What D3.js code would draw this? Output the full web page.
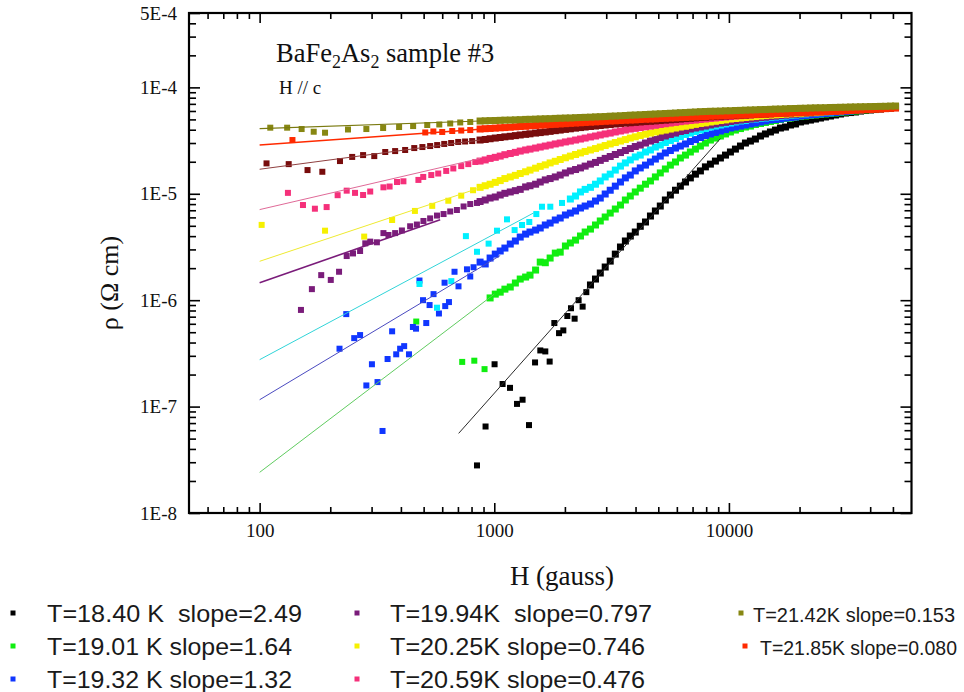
<!DOCTYPE html>
<html><head><meta charset="utf-8">
<script src="https://cdn.jsdelivr.net/npm/d3@7/dist/d3.min.js"></script>
<style>
html,body{margin:0;padding:0;background:#fff;}
svg{display:block;}
text{white-space:pre;}
</style></head><body>
<svg id="chart" width="964" height="692"></svg>
<script>
// ---------------- DATA ----------------
// shared field grid (gauss) for the dense high-field part of every sweep
const fieldGrid = [870,915,960,1010,1060,1110,1170,1230,1290,1360,1420,1500,1570,1650,1730,1820,1910,2010,2110,2220,2330,2440,2570,2700,2830,2970,3120,3280,3450,3620,3800,3990,4190,4410,4630,4860,5100,5360,5630,5920,6210,6530,6850,7200,7560,7940,8340,8760,9200,9670,10150,10660,11200,11760,12350,12970,13630,14310,15030,15790,16580,17420,18300,19220,20180,21200,22260,23380,24560,25800,27090,28460,29890,31400,32970,34630,36380,38210,40130,42150,44280,46510,48850,51290];

// resistivity (ohm cm) on fieldGrid
const rho1840 = [null,null,null,null,null,null,null,null,null,null,null,null,null,null,null,null,null,null,null,null,null,null,
1.39e-6,1.58e-6,1.80e-6,2.05e-6,2.33e-6,2.71e-6,3.16e-6,3.60e-6,4.01e-6,4.37e-6,
4.95e-6,5.43e-6,6.18e-6,6.89e-6,7.67e-6,8.74e-6,9.74e-6,1.08e-5,1.18e-5,1.29e-5,
1.41e-5,1.53e-5,1.64e-5,1.79e-5,1.90e-5,2.03e-5,2.17e-5,2.31e-5,2.47e-5,2.63e-5,
2.81e-5,3.00e-5,3.13e-5,3.27e-5,3.49e-5,3.65e-5,3.81e-5,3.97e-5,4.15e-5,4.24e-5,
4.43e-5,4.53e-5,4.73e-5,4.83e-5,4.93e-5,5.04e-5,5.15e-5,5.27e-5,5.38e-5,5.50e-5,
5.62e-5,5.74e-5,5.80e-5,5.87e-5,5.99e-5,6.06e-5,6.13e-5,6.19e-5,6.26e-5,6.33e-5,
6.40e-5,6.47e-5];
const rho1901 = [null,null,
1.05e-6,1.14e-6,1.19e-6,1.27e-6,1.33e-6,1.45e-6,1.58e-6,1.65e-6,1.72e-6,1.92e-6,
2.28e-6,2.25e-6,2.49e-6,2.77e-6,2.83e-6,3.23e-6,3.45e-6,3.67e-6,4.01e-6,4.37e-6,
4.66e-6,5.09e-6,5.55e-6,6.05e-6,6.59e-6,7.19e-6,7.84e-6,8.74e-6,9.53e-6,1.04e-5,
1.13e-5,1.23e-5,1.32e-5,1.44e-5,1.57e-5,1.71e-5,1.86e-5,1.99e-5,2.17e-5,2.31e-5,
2.47e-5,2.63e-5,2.81e-5,3.00e-5,3.20e-5,3.34e-5,3.49e-5,3.65e-5,3.81e-5,3.97e-5,
4.10e-5,4.24e-5,4.33e-5,4.48e-5,4.58e-5,4.68e-5,4.78e-5,4.88e-5,4.99e-5,5.10e-5,
5.15e-5,5.27e-5,5.32e-5,5.38e-5,5.44e-5,5.50e-5,5.56e-5,5.62e-5,5.68e-5,5.74e-5,
5.80e-5,5.87e-5,5.93e-5,5.99e-5,6.06e-5,6.13e-5,6.19e-5,6.26e-5,6.33e-5,6.40e-5,
6.47e-5,6.54e-5];
const rho1932 = [2.28e-6,2.19e-6,2.49e-6,2.71e-6,2.90e-6,3.09e-6,3.37e-6,3.60e-6,3.92e-6,4.18e-6,
4.37e-6,4.56e-6,4.77e-6,5.09e-6,5.31e-6,5.67e-6,5.92e-6,6.32e-6,6.59e-6,6.89e-6,
7.35e-6,7.67e-6,8.01e-6,8.55e-6,9.12e-6,9.95e-6,1.08e-5,1.18e-5,1.29e-5,1.41e-5,
1.50e-5,1.64e-5,1.75e-5,1.86e-5,1.99e-5,2.12e-5,2.26e-5,2.42e-5,2.55e-5,2.69e-5,
2.81e-5,2.94e-5,3.10e-5,3.23e-5,3.38e-5,3.53e-5,3.65e-5,3.77e-5,3.89e-5,4.01e-5,
4.15e-5,4.24e-5,4.33e-5,4.43e-5,4.53e-5,4.62e-5,4.73e-5,4.83e-5,4.93e-5,4.99e-5,
5.04e-5,5.15e-5,5.21e-5,5.27e-5,5.38e-5,5.44e-5,5.50e-5,5.56e-5,5.62e-5,5.68e-5,
5.74e-5,5.80e-5,5.87e-5,5.93e-5,5.99e-5,6.06e-5,6.13e-5,6.19e-5,6.26e-5,6.33e-5,
6.40e-5,6.47e-5,6.54e-5,6.61e-5];
const rhoCyan = [null,null,null,null,null,null,null,null,null,null,null,null,null,null,null,null,null,null,
8.93e-6,9.53e-6,1.04e-5,1.10e-5,1.15e-5,1.23e-5,1.32e-5,1.44e-5,1.53e-5,1.67e-5,
1.82e-5,1.95e-5,2.08e-5,2.22e-5,2.31e-5,2.47e-5,2.58e-5,2.75e-5,2.87e-5,3.03e-5,
3.17e-5,3.31e-5,3.45e-5,3.61e-5,3.72e-5,3.85e-5,3.97e-5,4.10e-5,4.24e-5,4.33e-5,
4.43e-5,4.53e-5,4.62e-5,4.73e-5,4.83e-5,4.88e-5,4.99e-5,5.04e-5,5.10e-5,5.15e-5,
5.21e-5,5.27e-5,5.32e-5,5.38e-5,5.44e-5,5.50e-5,5.56e-5,5.62e-5,5.68e-5,5.74e-5,
5.78e-5,5.82e-5,5.87e-5,5.93e-5,5.99e-5,6.06e-5,6.10e-5,6.13e-5,6.19e-5,6.26e-5,
6.33e-5,6.37e-5,6.40e-5,6.47e-5,6.54e-5,6.61e-5];
const rho1994 = [8.46e-6,8.74e-6,9.12e-6,9.33e-6,9.74e-6,1.01e-5,1.04e-5,1.07e-5,1.10e-5,1.16e-5,
1.19e-5,1.23e-5,1.29e-5,1.35e-5,1.39e-5,1.44e-5,1.50e-5,1.57e-5,1.64e-5,1.69e-5,
1.75e-5,1.82e-5,1.90e-5,1.97e-5,2.06e-5,2.15e-5,2.24e-5,2.34e-5,2.44e-5,2.55e-5,
2.66e-5,2.78e-5,2.87e-5,3.00e-5,3.13e-5,3.23e-5,3.38e-5,3.49e-5,3.61e-5,3.72e-5,
3.85e-5,3.93e-5,4.06e-5,4.15e-5,4.24e-5,4.33e-5,4.43e-5,4.53e-5,4.62e-5,4.69e-5,
4.78e-5,4.85e-5,4.93e-5,4.99e-5,5.04e-5,5.12e-5,5.19e-5,5.24e-5,5.30e-5,5.36e-5,
5.42e-5,5.48e-5,5.52e-5,5.59e-5,5.62e-5,5.67e-5,5.72e-5,5.77e-5,5.82e-5,5.87e-5,
5.92e-5,5.97e-5,6.02e-5,6.07e-5,6.13e-5,6.17e-5,6.22e-5,6.26e-5,6.32e-5,6.37e-5,
6.43e-5,6.48e-5,6.54e-5,6.60e-5];
const rho2025 = [1.15e-5,1.19e-5,1.23e-5,1.28e-5,1.33e-5,1.39e-5,1.44e-5,1.49e-5,1.55e-5,1.61e-5,
1.67e-5,1.74e-5,1.81e-5,1.87e-5,1.95e-5,2.02e-5,2.10e-5,2.18e-5,2.26e-5,2.34e-5,
2.42e-5,2.50e-5,2.58e-5,2.66e-5,2.75e-5,2.84e-5,2.94e-5,3.03e-5,3.13e-5,3.23e-5,
3.34e-5,3.43e-5,3.53e-5,3.63e-5,3.72e-5,3.81e-5,3.89e-5,3.97e-5,4.06e-5,4.15e-5,
4.24e-5,4.31e-5,4.40e-5,4.49e-5,4.58e-5,4.64e-5,4.73e-5,4.80e-5,4.88e-5,4.95e-5,
5.04e-5,5.10e-5,5.15e-5,5.21e-5,5.27e-5,5.32e-5,5.38e-5,5.43e-5,5.48e-5,5.52e-5,
5.56e-5,5.61e-5,5.65e-5,5.68e-5,5.72e-5,5.76e-5,5.80e-5,5.83e-5,5.87e-5,5.92e-5,
5.96e-5,6.01e-5,6.05e-5,6.09e-5,6.13e-5,6.18e-5,6.24e-5,6.29e-5,6.33e-5,6.38e-5,
6.43e-5,6.48e-5,6.54e-5,6.60e-5];
const rho2059 = [2.03e-5,2.08e-5,2.15e-5,2.20e-5,2.26e-5,2.33e-5,2.39e-5,2.45e-5,2.52e-5,2.58e-5,
2.63e-5,2.69e-5,2.75e-5,2.81e-5,2.87e-5,2.94e-5,3.00e-5,3.07e-5,3.13e-5,3.20e-5,
3.27e-5,3.34e-5,3.42e-5,3.49e-5,3.57e-5,3.65e-5,3.72e-5,3.81e-5,3.89e-5,3.97e-5,
4.06e-5,4.12e-5,4.19e-5,4.26e-5,4.33e-5,4.40e-5,4.48e-5,4.55e-5,4.62e-5,4.69e-5,
4.76e-5,4.82e-5,4.88e-5,4.93e-5,4.99e-5,5.04e-5,5.10e-5,5.15e-5,5.21e-5,5.27e-5,
5.32e-5,5.37e-5,5.42e-5,5.46e-5,5.50e-5,5.54e-5,5.58e-5,5.62e-5,5.65e-5,5.70e-5,
5.74e-5,5.78e-5,5.82e-5,5.86e-5,5.90e-5,5.94e-5,5.96e-5,5.99e-5,6.02e-5,6.06e-5,
6.09e-5,6.13e-5,6.15e-5,6.19e-5,6.22e-5,6.26e-5,6.29e-5,6.33e-5,6.37e-5,6.42e-5,
6.46e-5,6.50e-5,6.54e-5,6.59e-5];
const rhoDarkRed = [3.20e-5,3.24e-5,3.29e-5,3.34e-5,3.38e-5,3.43e-5,3.47e-5,3.52e-5,3.57e-5,3.62e-5,
3.66e-5,3.72e-5,3.76e-5,3.81e-5,3.86e-5,3.92e-5,3.97e-5,4.03e-5,4.08e-5,4.14e-5,
4.19e-5,4.24e-5,4.29e-5,4.33e-5,4.38e-5,4.43e-5,4.48e-5,4.53e-5,4.58e-5,4.62e-5,
4.65e-5,4.69e-5,4.73e-5,4.77e-5,4.80e-5,4.84e-5,4.88e-5,4.92e-5,4.96e-5,5.00e-5,
5.04e-5,5.09e-5,5.12e-5,5.17e-5,5.21e-5,5.24e-5,5.28e-5,5.31e-5,5.35e-5,5.38e-5,
5.41e-5,5.44e-5,5.48e-5,5.50e-5,5.53e-5,5.56e-5,5.59e-5,5.62e-5,5.65e-5,5.68e-5,
5.71e-5,5.74e-5,5.77e-5,5.80e-5,5.83e-5,5.87e-5,5.89e-5,5.92e-5,5.94e-5,5.97e-5,
5.99e-5,6.02e-5,6.05e-5,6.07e-5,6.10e-5,6.14e-5,6.17e-5,6.21e-5,6.23e-5,6.27e-5,
6.32e-5,6.36e-5,6.40e-5,6.45e-5];
const rho2185 = [4.06e-5,4.09e-5,4.11e-5,4.14e-5,4.17e-5,4.19e-5,4.22e-5,4.26e-5,4.29e-5,4.31e-5,
4.35e-5,4.38e-5,4.41e-5,4.44e-5,4.47e-5,4.50e-5,4.53e-5,4.56e-5,4.59e-5,4.62e-5,
4.65e-5,4.68e-5,4.71e-5,4.74e-5,4.77e-5,4.80e-5,4.83e-5,4.85e-5,4.88e-5,4.91e-5,
4.93e-5,4.95e-5,4.99e-5,5.02e-5,5.04e-5,5.06e-5,5.10e-5,5.12e-5,5.15e-5,5.17e-5,
5.20e-5,5.22e-5,5.25e-5,5.28e-5,5.30e-5,5.32e-5,5.36e-5,5.38e-5,5.41e-5,5.43e-5,
5.45e-5,5.48e-5,5.50e-5,5.52e-5,5.55e-5,5.57e-5,5.59e-5,5.62e-5,5.64e-5,5.67e-5,
5.69e-5,5.72e-5,5.74e-5,5.77e-5,5.79e-5,5.82e-5,5.84e-5,5.87e-5,5.89e-5,5.92e-5,
5.94e-5,5.97e-5,5.99e-5,6.03e-5,6.06e-5,6.10e-5,6.13e-5,6.17e-5,6.19e-5,6.23e-5,
6.26e-5,6.31e-5,6.36e-5,6.40e-5];
const rho2142 = [4.83e-5,4.85e-5,4.87e-5,4.88e-5,4.90e-5,4.92e-5,4.93e-5,4.95e-5,4.97e-5,5.00e-5,
5.01e-5,5.03e-5,5.05e-5,5.07e-5,5.08e-5,5.11e-5,5.13e-5,5.15e-5,5.16e-5,5.19e-5,
5.21e-5,5.23e-5,5.25e-5,5.28e-5,5.30e-5,5.32e-5,5.36e-5,5.38e-5,5.41e-5,5.44e-5,
5.48e-5,5.50e-5,5.53e-5,5.56e-5,5.59e-5,5.62e-5,5.65e-5,5.68e-5,5.71e-5,5.74e-5,
5.78e-5,5.80e-5,5.84e-5,5.87e-5,5.91e-5,5.93e-5,5.96e-5,5.97e-5,5.99e-5,6.02e-5,
6.03e-5,6.06e-5,6.08e-5,6.11e-5,6.13e-5,6.15e-5,6.18e-5,6.19e-5,6.22e-5,6.25e-5,
6.26e-5,6.29e-5,6.32e-5,6.33e-5,6.36e-5,6.37e-5,6.40e-5,6.42e-5,6.43e-5,6.44e-5,
6.47e-5,6.48e-5,6.50e-5,6.51e-5,6.54e-5,6.55e-5,6.57e-5,6.58e-5,6.60e-5,6.61e-5,
6.63e-5,6.64e-5,6.67e-5,6.68e-5];

// sparse low-field points [H (gauss), rho (ohm cm)]
const low1840 = [[844,2.8e-8],[918,6.5e-8],[1003,2.5e-7],[1085,1.63e-7],[1167,1.5e-7],[1250,1.06e-7],[1320,1.16e-7],[1406,6.7e-8],[1492,2.6e-7],[1571,3.37e-7],[1650,3.3e-7],[1722,2.65e-7],[1803,6.1e-7],[1888,4.9e-7],[1969,5.2e-7],[2048,7.1e-7],[2123,8.4e-7],[2200,6.7e-7],[2288,1.0e-6],[2380,8.7e-7],[2468,1.19e-6]];
const low1901 = [[465,6.3e-7],[730,2.63e-7],[822,2.7e-7],[909,2.25e-7]];
const low1932 = [[219,3.5e-7],[234,7.4e-7],[253,4.4e-7],[268,4.7e-7],[285,1.58e-7],[301,2.5e-7],[318,1.7e-7],[334,5.9e-8],[351,2.8e-7],[367,5.1e-7],[382,3.1e-7],[397,3.5e-7],[413,3.7e-7],[433,3.1e-7],[450,5.6e-7],[464,5.4e-7],[480,1.53e-6],[497,1.0e-6],[513,6.1e-7],[530,9.0e-7],[551,1.14e-6],[581,7.5e-7],[614,1.46e-6],[618,8.8e-7],[641,9.6e-7],[677,1.85e-6],[704,1.35e-6],[765,1.95e-6],[790,1.67e-6],[816,2.04e-6]];
const lowCyan = [[480,1.42e-6],[570,8.5e-7],[656,1.51e-6],[757,4.0e-6],[844,2.85e-6],[946,3.4e-6],[1027,4.5e-6],[1133,5.75e-6],[1221,4.56e-6],[1313,5.09e-6],[1410,5.43e-6],[1511,6.45e-6],[1597,7.56e-6],[1733,7.56e-6],[1944,8.2e-6]];
const low1994 = [[150,8.1e-7],[167,1.27e-6],[183,1.72e-6],[201,1.55e-6],[218,1.85e-6],[235,2.6e-6],[250,2.75e-6],[268,2.9e-6],[282,3.42e-6],[296,3.55e-6],[316,3.5e-6],[337,4.27e-6],[354,4.1e-6],[378,4.27e-6],[404,4.52e-6],[438,4.95e-6],[468,5.14e-6],[499,5.55e-6],[533,5.87e-6],[570,6.24e-6],[608,6.45e-6],[649,6.82e-6],[693,7.04e-6],[740,7.6e-6],[790,8.01e-6],[844,8.2e-6]];
const low2025 = [[102,5.1e-6],[190,4.5e-6],[279,3.96e-6],[367,5.67e-6],[459,6.9e-6],[544,7.7e-6],[637,8.6e-6],[723,9.6e-6],[812,1.08e-5]];
const low2059 = [[132,1.02e-5],[153,7.84e-6],[172,7.24e-6],[193,7.5e-6],[215,9.7e-6],[235,1.07e-5],[255,1.02e-5],[276,9.74e-6],[296,1.05e-5],[337,1.15e-5],[358,1.17e-5],[385,1.29e-5],[410,1.31e-5],[475,1.35e-5],[498,1.44e-5],[539,1.50e-5],[577,1.55e-5],[624,1.64e-5],[669,1.73e-5],[723,1.82e-5],[775,1.90e-5],[830,1.99e-5]];
const lowDarkRed = [[107,1.93e-5],[133,1.9e-5],[160,1.67e-5],[185,1.61e-5],[220,2.03e-5],[248,2.22e-5],[276,2.31e-5],[308,2.26e-5],[343,2.47e-5],[378,2.52e-5],[417,2.58e-5],[456,2.69e-5],[494,2.75e-5],[533,2.81e-5],[571,2.87e-5],[612,2.94e-5],[655,3.00e-5],[702,3.07e-5],[751,3.10e-5],[805,3.13e-5]];
const low2185 = [[138,3.2e-5],[508,3.77e-5],[550,3.85e-5],[600,3.81e-5],[662,3.89e-5],[723,3.93e-5],[790,3.97e-5]];
const low2142 = [[111,4.18e-5],[131,4.18e-5],[151,4.06e-5],[170,3.83e-5],[190,3.75e-5],[238,4.02e-5],[285,4.06e-5],[336,4.15e-5],[393,4.24e-5],[451,4.33e-5],[518,4.43e-5],[583,4.48e-5],[649,4.58e-5],[716,4.68e-5],[790,4.73e-5]];

// power-law fit lines, end points [H, rho]
const fit1840 = [[705,5.6e-8],[9200,3.3e-5]];
const fit1901 = [[100,2.41e-8],[1000,1.14e-6]];
const fit1932 = [[100,1.16e-7],[1060,2.63e-6]];
const fitCyan = [[100,2.76e-7],[1470,6.6e-6]];
const fit1994 = [[100,1.46e-6],[588,5.7e-6]];
const fit2025 = [[100,2.32e-6],[870,1.14e-5]];
const fit2059 = [[100,7.1e-6],[870,2.15e-5]];
const fitDarkRed = [[100,1.7e-5],[870,3.2e-5]];
const fit2185 = [[100,2.87e-5],[870,4.04e-5]];
const fit2142 = [[100,4.1e-5],[870,4.83e-5]];

// legend text
const legendLabels = ["T=18.40 K  slope=2.49","T=19.01 K slope=1.64","T=19.32 K slope=1.32","T=19.94K  slope=0.797","T=20.25K slope=0.746","T=20.59K slope=0.476","T=21.42K slope=0.153","T=21.85K slope=0.080"];
const legendKeys = ["s1840","s1901","s1932","s1994","s2025","s2059","s2142","s2185"];

// axis ticks
const xMajorTicks = [100,1000,10000];
const xMinorTicks = [60,70,80,90,200,300,400,500,600,700,800,900,2000,3000,4000,5000,6000,7000,8000,9000,20000,30000,40000,50000];
const yLabelTicks = [1e-8,1e-7,1e-6,1e-5,1e-4,5e-4];
const yLabelText = ["1E-8","1E-7","1E-6","1E-5","1E-4","5E-4"];
const yMajorTicks = [1e-8,1e-7,1e-6,1e-5,1e-4];
const yMinorTicks = [2e-8,3e-8,4e-8,5e-8,6e-8,7e-8,8e-8,9e-8,2e-7,3e-7,4e-7,5e-7,6e-7,7e-7,8e-7,9e-7,2e-6,3e-6,4e-6,5e-6,6e-6,7e-6,8e-6,9e-6,2e-5,3e-5,4e-5,5e-5,6e-5,7e-5,8e-5,9e-5,2e-4,3e-4,4e-4];

// ---------------- STYLE / SERIES TABLE ----------------
const series = [
  {key:"s1840", dense:rho1840, low:low1840, fit:fit1840, color:"#000000", line:"#2a2a2a", lw:1},
  {key:"s1901", dense:rho1901, low:low1901, fit:fit1901, color:"#10ee10", line:"#60cc60", lw:1},
  {key:"s1932", dense:rho1932, low:low1932, fit:fit1932, color:"#1036ff", line:"#4a4ac0", lw:1},
  {key:"cyan",  dense:rhoCyan, low:lowCyan, fit:fitCyan, color:"#00f0ff", line:"#30d4d8", lw:1},
  {key:"s1994", dense:rho1994, low:low1994, fit:fit1994, color:"#7a1c7a", line:"#7a1c7a", lw:1.6},
  {key:"s2025", dense:rho2025, low:low2025, fit:fit2025, color:"#f6f000", line:"#eeea30", lw:1},
  {key:"s2059", dense:rho2059, low:low2059, fit:fit2059, color:"#f5307a", line:"#e06a98", lw:1},
  {key:"darkred", dense:rhoDarkRed, low:lowDarkRed, fit:fitDarkRed, color:"#780c0c", line:"#904040", lw:1},
  {key:"s2185", dense:rho2185, low:low2185, fit:fit2185, color:"#ff2a00", line:"#ff2a00", lw:1.6},
  {key:"s2142", dense:rho2142, low:low2142, fit:fit2142, color:"#878712", line:"#7a7a10", lw:1.2}
];
const colorOf = Object.fromEntries(series.map(s=>[s.key,s.color]));

const serif = "'Liberation Serif','Times New Roman',serif";
const sans = "'Liberation Sans',Arial,sans-serif";

const svg = d3.select("#chart");
const X0=189, X1=911.5, Y0=513, Y1=13;
const x = d3.scaleLog().domain([50,60000]).range([X0,X1]);
const y = d3.scaleLog().domain([1e-8,5e-4]).range([Y0,Y1]);

svg.append("rect").attr("width",964).attr("height",692).attr("fill","#fff");

svg.append("defs").append("clipPath").attr("id","plotclip")
  .append("rect").attr("x",X0).attr("y",Y1).attr("width",X1-X0).attr("height",Y0-Y1);

const plot = svg.append("g").attr("clip-path","url(#plotclip)");
const SZ_LOW = 6, SZ_DENSE = 7;
series.forEach(s=>{
  const pts = s.low.map(d=>({h:d[0],r:d[1],sz:SZ_LOW}))
    .concat(fieldGrid.map((h,i)=>({h:h,r:s.dense[i],sz:SZ_DENSE})).filter(d=>d.r!=null));
  plot.append("g").selectAll("rect").data(pts).join("rect")
    .attr("x",d=>x(d.h)-d.sz/2).attr("y",d=>y(d.r)-d.sz/2)
    .attr("width",d=>d.sz).attr("height",d=>d.sz).attr("fill",s.color);
});
const lineGen = d3.line().x(d=>x(d[0])).y(d=>y(d[1]));
series.forEach(s=>{
  plot.append("path").attr("d",lineGen(s.fit)).attr("fill","none")
    .attr("stroke",s.line).attr("stroke-width",s.lw);
});

// axes
function styleAxis(g){
  g.select(".domain").remove();
  g.selectAll(".tick line").attr("stroke","#000").attr("stroke-width",1.6);
  g.selectAll(".tick text").attr("font-family",serif).attr("font-size",19).attr("fill","#111");
}
svg.append("g").attr("transform",`translate(0,${Y0})`)
  .call(d3.axisBottom(x).tickValues(xMajorTicks).tickFormat(d3.format("d")).tickSizeInner(-10).tickSizeOuter(0).tickPadding(11)).call(styleAxis);
svg.append("g").attr("transform",`translate(0,${Y0})`)
  .call(d3.axisBottom(x).tickValues(xMinorTicks).tickFormat("").tickSizeInner(-6).tickSizeOuter(0)).call(styleAxis);
svg.append("g").attr("transform",`translate(0,${Y1})`)
  .call(d3.axisTop(x).tickValues(xMajorTicks).tickFormat("").tickSizeInner(-10).tickSizeOuter(0)).call(styleAxis);
svg.append("g").attr("transform",`translate(0,${Y1})`)
  .call(d3.axisTop(x).tickValues(xMinorTicks).tickFormat("").tickSizeInner(-6).tickSizeOuter(0)).call(styleAxis);
svg.append("g").attr("transform",`translate(${X0},0)`)
  .call(d3.axisLeft(y).tickValues(yLabelTicks).tickFormat((d,i)=>yLabelText[i]).tickSizeInner(-11).tickSizeOuter(0).tickPadding(12)).call(styleAxis);
svg.append("g").attr("transform",`translate(${X0},0)`)
  .call(d3.axisLeft(y).tickValues(yMinorTicks).tickFormat("").tickSizeInner(-7).tickSizeOuter(0)).call(styleAxis);
svg.append("g").attr("transform",`translate(${X1},0)`)
  .call(d3.axisRight(y).tickValues(yMajorTicks).tickFormat("").tickSizeInner(-11).tickSizeOuter(0)).call(styleAxis);
svg.append("g").attr("transform",`translate(${X1},0)`)
  .call(d3.axisRight(y).tickValues(yMinorTicks).tickFormat("").tickSizeInner(-7).tickSizeOuter(0)).call(styleAxis);

svg.append("rect").attr("x",X0).attr("y",Y1).attr("width",X1-X0).attr("height",Y0-Y1)
  .attr("fill","none").attr("stroke","#000").attr("stroke-width",2.2);

// titles
svg.append("text").attr("x",562).attr("y",585).attr("text-anchor","middle")
  .attr("font-family",serif).attr("font-size",27).attr("fill","#111").text("H (gauss)");
svg.append("text").attr("transform","translate(118,283) rotate(-90)").attr("text-anchor","middle")
  .attr("font-family",serif).attr("font-size",26).attr("fill","#111").text("\u03c1 (\u03a9 cm)");

// annotation
const ann = svg.append("text").attr("x",276).attr("y",62).attr("font-family",serif).attr("font-size",26.5).attr("fill","#111");
ann.append("tspan").text("BaFe");
ann.append("tspan").attr("dy",6).attr("font-size",18).text("2");
ann.append("tspan").attr("dy",-6).text("As");
ann.append("tspan").attr("dy",6).attr("font-size",18).text("2");
ann.append("tspan").attr("dy",-6).text(" sample #3");
svg.append("text").attr("x",279).attr("y",94).attr("font-family",serif).attr("font-size",19).attr("fill","#111").text("H // c");

// legend
const legMarkX = [13,13,13,357,357,357,741,745];
const legTextX = [47,47,47,390,390,390,753,760];
const legRowY = [613,646,679,613,646,679,613,646];
const legWidth = [255,245,245,262,255,255,202,197];
const legFont = [24,24,24,24,24,24,20,19.5];
const leg = svg.append("g");
legendLabels.forEach((lab,i)=>{
  leg.append("rect").attr("x",legMarkX[i]-2.5).attr("y",legRowY[i]-2.5).attr("width",5).attr("height",5)
    .attr("fill",colorOf[legendKeys[i]]);
  leg.append("text").attr("x",legTextX[i]).attr("y",legRowY[i]+8.5)
    .attr("font-family",sans).attr("font-size",legFont[i]).attr("fill","#1a1a1a")
    .attr("textLength",legWidth[i]).attr("lengthAdjust","spacingAndGlyphs")
    .text(lab);
});
</script>
</body></html>
